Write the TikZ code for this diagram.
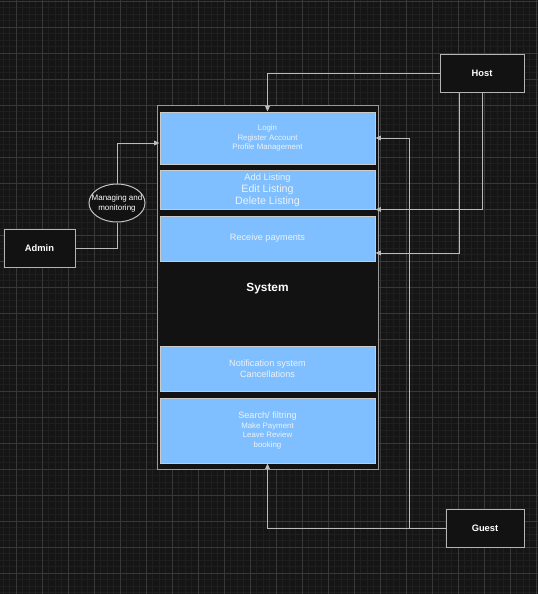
\documentclass[tikz,border=0pt]{standalone}
\usepackage{fontspec}
\setmainfont{Liberation Sans}
\usepackage{tikz}
\usetikzlibrary{arrows,arrows.meta,shapes,positioning}
\usetikzlibrary{shapes.geometric}

\definecolor{canvasbg}{HTML}{151515}
\definecolor{minorline}{HTML}{1F1F1F}
\definecolor{majorline}{HTML}{383838}
\definecolor{panelblue}{HTML}{7FBFFF}
\definecolor{edgegray}{HTML}{B4B4B4}
\definecolor{paneltext}{HTML}{EEF2F7}

\begin{document}
\begin{tikzpicture}[x=0.75pt,y=-0.75pt,
    panel/.style={draw=edgegray!70!white,fill=panelblue,line width=0.75pt,
        minimum width=161.25pt,inner sep=0pt,align=center,text=paneltext,
        font=\fontsize{6.85pt}{8.3pt}\selectfont},
    actor/.style={draw=edgegray,fill=black!93,line width=0.75pt,
        minimum width=#1,minimum height=28.5pt,inner sep=0pt,text=white,
        font=\fontsize{7pt}{8pt}\selectfont\bfseries},
    link/.style={draw=edgegray!90!white,line width=0.75pt}]
\useasboundingbox (0,0) rectangle (538,594);
%the canvas and its grid
    \fill[canvasbg] (0,0) rectangle (538,594);
    \foreach \i in {0,...,83}
       \draw[minorline,line width=0.5pt] ({-3.5+6.5*\i},0) -- ++(0,594);
    \foreach \i in {0,...,91}
       \draw[minorline,line width=0.5pt] (0,{1+6.5*\i}) -- ++(538,0);
    \foreach \i in {0,...,20}
       \draw[majorline,line width=0.6pt] ({16+26*\i},0) -- ++(0,594);
    \foreach \i in {0,...,22}
       \draw[majorline,line width=0.6pt] (0,{1+26*\i}) -- ++(538,0);

%the system
    \node[draw=edgegray!85!black,fill=black!93,line width=0.75pt,
          minimum width=165.75pt,minimum height=273pt,text=white,text depth=0pt,
          font=\fontsize{8.9pt}{10pt}\selectfont\bfseries] (system) at (267.5,287) {System};

%the use case panels
    \node[panel,minimum height=39pt,font=\fontsize{5.9pt}{7.1pt}\selectfont] (login) at (267.5,138)
        {Login\\Register Account\\Profile Management};
    \node[panel,minimum height=29.25pt,text depth=0pt,font=\fontsize{7pt}{8.25pt}\selectfont] (listing) at (267.5,189.5)
        {Add Listing\\[0.75pt]{\fontsize{8pt}{9pt}\selectfont Edit Listing}\\[0.75pt]{\fontsize{8pt}{9pt}\selectfont Delete Listing}};
    \node[panel,minimum height=33.75pt] (payments) at (267.5,238.5) {Receive payments};
    \node[panel,minimum height=33.75pt] (notify) at (267.5,368.5)
        {Notification system\\Cancellations};
    \node[panel,minimum height=48.75pt,font=\fontsize{5.9pt}{7.2pt}\selectfont] (search) at (267.5,430.5)
        {{\fontsize{6.85pt}{8pt}\selectfont Search/ filtring}\\Make Payment\\Leave Review\\booking};

%the actors
    \node[actor=63pt] (host) at (482,73) {Host};
    \node[actor=53.25pt] (admin) at (39.5,248.5) {Admin};
    \node[actor=58.5pt] (guest) at (485,528) {Guest};
    \node[ellipse,draw=edgegray!80!white,fill=black!93,line width=0.75pt,
          minimum width=42pt,minimum height=28.5pt,inner xsep=-7pt,inner ysep=0pt,align=center,
          text=white,font=\fontsize{6pt}{7.5pt}\selectfont] (monitor) at (117,203)
        {Managing and\\monitoring};

%the connectors
    \draw[link] (admin.east) -| (monitor.south);
    \begin{scope}[every path/.style={link,-{Triangle[length=4pt,width=3.5pt]}}]
       \draw (monitor.north) |- ([yshift=-3.75pt]login.west);
       \draw (host.west) -| (login.north);
       \draw (host.south) |- (listing.south east);
       \draw ([xshift=-17.25pt]host.south) |- ([yshift=-10.875pt]payments.east);
       \draw (guest.west) -- ++(-27pt,0) |- (login.east);
       \draw (guest.west) -| (search.south);
    \end{scope}
\end{tikzpicture}
\end{document}
